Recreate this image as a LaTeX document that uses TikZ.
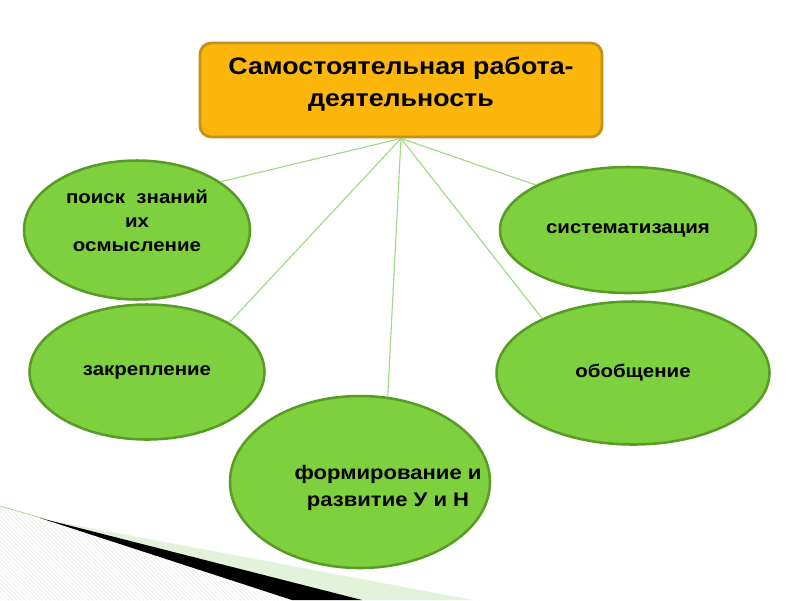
\documentclass[tikz,border=0pt]{standalone}
\usepackage{fontspec}
\setmainfont[FakeStretch=1.12]{Liberation Sans}
\usepackage{tikz}
\usetikzlibrary{shapes.geometric, patterns}

\definecolor{boxfill}{RGB}{253,182,12}
\definecolor{boxline}{RGB}{196,146,24}
\definecolor{leaffill}{RGB}{126,208,62}
\definecolor{leafline}{RGB}{88,156,38}
\definecolor{linkgreen}{RGB}{162,216,132}
\definecolor{bandgreen}{RGB}{226,243,218}

\begin{document}
\begin{tikzpicture}[x=0.025cm, y=-0.025cm,
  leaf/.style={ellipse, draw=leafline, fill=leaffill, line width=1.8pt, inner sep=0pt,
    align=center, font=\bfseries\fontsize{13}{17}\selectfont},
  link/.style={draw=linkgreen, line width=0.8pt}]
\useasboundingbox (0,0) rectangle (800,600);
% corner decoration
\fill[pattern=north west lines, pattern color=gray!18] (0,506) -- (295,600) -- (0,600) -- cycle;
\draw[linkgreen, line width=0.5pt] (0,506) -- (45,519);
\fill[bandgreen] (48,520) -- (473,600) -- (340,600) -- cycle;
\fill[black] (40,518) -- (362,600) -- (292,600) -- cycle;
% top box
\node[draw=boxline, fill=boxfill, line width=2pt, rounded corners=8pt, minimum width=402*0.025cm, minimum height=94*0.025cm,
  align=center, text depth=12pt, font=\bfseries\fontsize{17}{23}\selectfont] (title) at (401,90) {Самостоятельная работа-\\деятельность};
% ellipses
\node[leaf, minimum width=226*0.025cm, minimum height=139*0.025cm, text depth=13pt] (poisk) at (137,230) {поиск \ знаний\\их\\осмысление};
\node[leaf, minimum width=256*0.025cm, minimum height=126*0.025cm] (sist) at (628,230) {систематизация};
\node[leaf, minimum width=235*0.025cm, minimum height=135*0.025cm] (zakr) at (147,372) {закрепление};
\node[leaf, minimum width=273*0.025cm, minimum height=143*0.025cm] (obob) at (633,373) {обобщение};
\node[leaf, minimum width=260*0.025cm, minimum height=172*0.025cm] (form) at (360,482) {};
\node[align=center, inner sep=0pt, font=\bfseries\fontsize{14}{19}\selectfont] (formtext) at (388,488) {формирование и\\развитие У и Н};
% links
\draw[link] (title.south) -- (poisk.30);
\draw[link] (title.south) -- (sist.154);
\draw[link] (title.south) -- (zakr.31);
\draw[link] (title.south) -- (obob.149);
\draw[link] (title.south) -- (form.72);
\end{tikzpicture}
\end{document}
